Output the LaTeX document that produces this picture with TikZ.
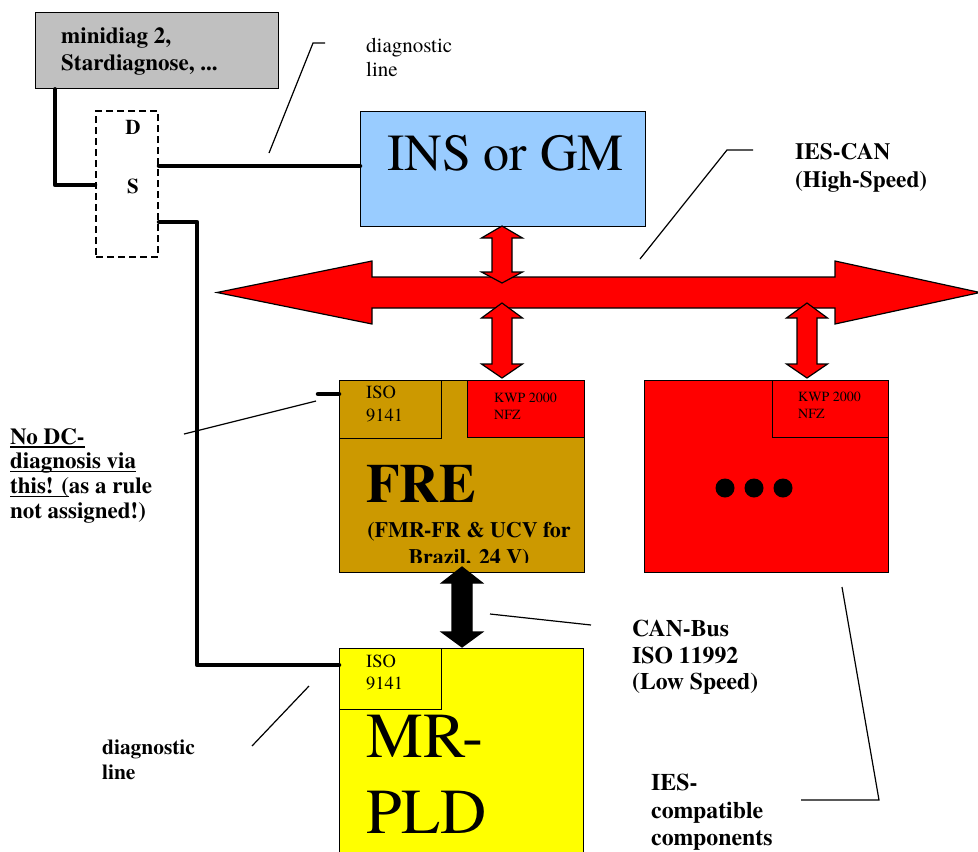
\documentclass[tikz,border=0pt]{standalone}
\usepackage{fontspec}
\IfFontExistsTF{texgyretermes-regular.otf}
  {\setmainfont{texgyretermes}[Extension=.otf,UprightFont=*-regular,BoldFont=*-bold,ItalicFont=*-italic,BoldItalicFont=*-bolditalic]}
  {\setmainfont{Liberation Serif}}
\usepackage{tikz}
\definecolor{diaggrau}{HTML}{C0C0C0}
\definecolor{insblau}{HTML}{99CCFF}
\definecolor{fregold}{HTML}{CC9900}
\definecolor{mrgelb}{HTML}{FFFF00}
\definecolor{busrot}{HTML}{FF0000}
\newsavebox\ulbox
\newcommand{\undl}[1]{\sbox\ulbox{#1}\rlap{\rule[-3.5pt]{\wd\ulbox}{1.4pt}}\usebox\ulbox}
\newcommand{\fs}[2]{\fontsize{#1}{#2}\selectfont}
\newcommand{\vdpfeil}[6]{%
  \filldraw[#1] (#2,#3) -- ({#2+20.5},{#3+#5}) -- ({#2+10},{#3+#5}) -- ({#2+10},{#4-#6})
    -- ({#2+20.5},{#4-#6}) -- (#2,#4) -- ({#2-20.5},{#4-#6}) -- ({#2-10},{#4-#6})
    -- ({#2-10},{#3+#5}) -- ({#2-20.5},{#3+#5}) -- cycle;}
\tikzset{
  box/.style={draw=black,line width=1.3pt,anchor=north west,inner sep=0pt},
  dsbox/.style={draw=black,line width=2pt,dash pattern=on 7pt off 4pt,anchor=north west,inner sep=0pt},
  wire/.style={line width=4.5pt,line cap=round,line join=round},
  leader/.style={line width=1.2pt},
  lbl/.style={anchor=north west,inner sep=0pt,align=left},
  pfeilrot/.style={fill=busrot,draw=black,line width=1.2pt},
  pfeilschwarz/.style={fill=black,draw=black,line width=1.2pt},
}
\begin{document}
\begin{tikzpicture}[x=1pt,y=-1pt]
  \useasboundingbox (0,0) rectangle (978,852);
  \node[box,fill=diaggrau,minimum width=243pt,minimum height=76pt] (diag) at (35,12) {};
  \node[lbl,font=\bfseries\fs{23}{27.5}] (diagtxt) at (61,27) {minidiag 2,\\Stardiagnose, ...};
  \node[dsbox,minimum width=62pt,minimum height=146pt] (ds) at (95,110) {};
  \node[font=\bfseries\fs{21}{25}] (dsd) at (133,127) {D};
  \node[font=\bfseries\fs{21}{25}] (dss) at (133,186) {S};

  \node[box,fill=insblau,minimum width=285pt,minimum height=115pt] (ins) at (360,111) {};
  \node[anchor=base west,inner sep=0pt,font=\fs{52}{60}] (instxt) at (387,170) {INS or GM};

  \node[box,fill=fregold,minimum width=245pt,minimum height=192pt] (fre) at (339,380) {};
  \node[box,fill=fregold,minimum width=102pt,minimum height=58pt] (freiso) at (339,380) {};
  \node[box,fill=busrot,minimum width=117pt,minimum height=57pt] (frekwp) at (467,380) {};
  \node[lbl,font=\fs{18.5}{23}] (freisotxt) at (366,386) {ISO\\9141};
  \node[lbl,font=\fs{14}{17}] (frekwptxt) at (494,393) {KWP 2000\\NFZ};
  \node[anchor=base west,inner sep=0pt,font=\bfseries\fs{55}{60}] (fretxt) at (366,502) {FRE};
  \begin{scope}
    \clip (339,380) rectangle (584,562);
    \node[anchor=north,inner sep=0pt,align=center,font=\bfseries\fs{22}{27}] (fresub) at (469,522) {(FMR-FR \& UCV for\\Brazil. 24 V)};
  \end{scope}

  \node[box,fill=busrot,minimum width=244pt,minimum height=192pt] (ies) at (644,380) {};
  \node[box,fill=busrot,minimum width=116pt,minimum height=57pt] (ieskwp) at (772,380) {};
  \node[lbl,font=\fs{14}{17}] (ieskwptxt) at (798,392) {KWP 2000\\NFZ};
  \foreach \x in {725,754,783}
    \fill (\x,488) circle (9.5);

  \node[box,fill=mrgelb,minimum width=244pt,minimum height=240pt] (mr) at (339,648) {};
  \node[box,fill=mrgelb,minimum width=102pt,minimum height=61pt] (mriso) at (339,648) {};
  \node[lbl,font=\fs{18.5}{22}] (mrisotxt) at (366,655) {ISO\\9141};
  \node[lbl,font=\fs{64}{76}] (mrtxt) at (366,715) {MR-\\PLD};

  \fill[busrot,draw=black,line width=1.2pt] (217,292.5) -- (372,261) -- (372,277) -- (835,277)
    -- (835,261) -- (980,292.5) -- (835,324) -- (835,308) -- (372,308) -- (372,324) -- cycle;
  \vdpfeil{pfeilrot}{502}{226}{283}{12}{11}
  \vdpfeil{pfeilrot}{502}{303}{378}{15}{14}
  \vdpfeil{pfeilrot}{807}{303}{378}{15}{14}
  \vdpfeil{pfeilschwarz}{462}{567}{647}{16}{15}

  \coordinate (ecke) at (197,665);
  \draw[wire] (diag.south west) ++(20,0) |- (ds.west |- 0,185);
  \draw[wire] (ds.east |- 0,166) -- (ins.west |- 0,166);
  \draw[wire] (ds.east |- 0,222) -| (ecke) -- (mr.north west |- ecke);
  \draw[wire] (fre.north west |- 0,394) -- ++(-21,0);

  \node[lbl,font=\fs{21}{24}] (diagline) at (366,38) {diagnostic\\line};
  \node[lbl,font=\bfseries\fs{23.3}{28}] (iescan) at (795,143) {IES-CAN\\(High-Speed)};
  \node[lbl,font=\bfseries\fs{23}{24.7}] (nodc) at (10,428)
    {\undl{No DC-}\\\undl{diagnosis via}\\\undl{this! (}as a rule\\not assigned!)};
  \node[lbl,font=\bfseries\fs{23.7}{26.5}] (canbus) at (632,620) {CAN-Bus\\ISO 11992\\(Low Speed)};
  \node[lbl,font=\bfseries\fs{23.8}{27.5}] (iescomp) at (651,774) {IES-\\compatible\\components};
  \node[lbl,font=\bfseries\fs{21.4}{25}] (diagline2) at (102,740) {diagnostic\\line};

  \draw[leader] (269,153) -- (313,43) -- (325,43);
  \draw[leader] (640,259) -- (727,150) -- (753,150);
  \draw[leader] (184,434) -- (316,401);
  \draw[leader] (490,614) -- (591,625);
  \draw[leader] (252,746) -- (309,686);
  \draw[leader] (842,587) -- (879,800) -- (801,800);
\end{tikzpicture}
\end{document}
